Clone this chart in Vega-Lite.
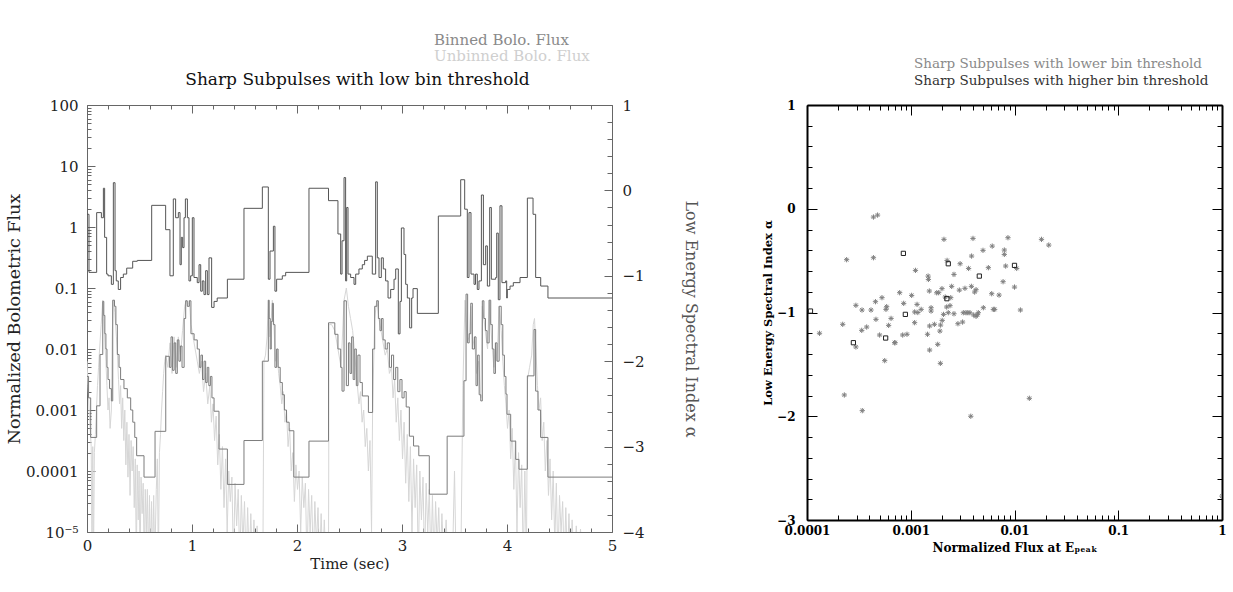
{
"$schema": "https://vega.github.io/schema/vega-lite/v6.json",
"autosize": {"type": "pad"},
"padding": {"left": 5, "top": 32, "right": 0, "bottom": 0},
"bounds": "flush",
"spacing": 195,
"background": "white",
"config": {
  "view": {"stroke": null},
  "title": {"font": "DejaVu Serif", "fontWeight": "normal"},
  "axis": {"grid": false, "domainColor": "#666", "tickColor": "#666", "labelColor": "#222", "titleColor": "#222", "labelFont": "DejaVu Serif", "titleFont": "DejaVu Serif", "labelFontSize": 15, "titleFontSize": 15, "titleFontWeight": "normal", "labelOverlap": false, "labelFlush": false, "labelBound": false}
},
"datasets": {
  "alpha": [
    {"t":0,"a":-0.28},{"t":0.019,"a":-0.96},{"t":0.092,"a":-0.26},{"t":0.137,"a":-0.32},{"t":0.156,"a":0.025},{"t":0.168,"a":-0.55},{"t":0.187,"a":-0.98},{"t":0.2,"a":-1.0},{"t":0.232,"a":-1.1},{"t":0.251,"a":0.09},{"t":0.267,"a":-0.94},{"t":0.279,"a":-1.06},{"t":0.298,"a":-1.16},{"t":0.32,"a":-1.02},{"t":0.346,"a":-0.98},{"t":0.378,"a":-0.91},{"t":0.435,"a":-0.83},{"t":0.479,"a":-0.82},{"t":0.616,"a":-0.175},{"t":0.749,"a":-0.46},{"t":0.79,"a":-1.0},{"t":0.822,"a":-0.1},{"t":0.844,"a":-0.32},{"t":0.87,"a":-0.26},{"t":0.886,"a":-0.87},{"t":0.898,"a":-0.55},{"t":0.911,"a":-0.67},{"t":0.924,"a":-0.32},{"t":0.937,"a":-0.1},{"t":0.956,"a":-0.32},{"t":0.971,"a":-1.06},{"t":0.987,"a":-1.0},{"t":1.003,"a":-0.32},{"t":1.019,"a":-1.02},{"t":1.05,"a":-1.08},{"t":1.067,"a":-0.87},{"t":1.083,"a":-1.18},{"t":1.098,"a":-1.06},{"t":1.114,"a":-1.22},{"t":1.13,"a":-0.94},{"t":1.146,"a":-1.22},{"t":1.162,"a":-0.79},{"t":1.187,"a":-1.37},{"t":1.21,"a":-1.3},{"t":1.24,"a":-1.26},{"t":1.337,"a":-1.04},{"t":1.495,"a":-0.21},{"t":1.67,"a":0.04},{"t":1.727,"a":-1.04},{"t":1.743,"a":-0.71},{"t":1.775,"a":-0.42},{"t":1.79,"a":-1.18},{"t":1.806,"a":-1.04},{"t":1.86,"a":-1.0},{"t":1.892,"a":-0.96},{"t":2.114,"a":0.025},{"t":2.3,"a":-0.12},{"t":2.39,"a":-0.51},{"t":2.416,"a":-0.98},{"t":2.429,"a":-0.59},{"t":2.448,"a":0.15},{"t":2.463,"a":-1.06},{"t":2.473,"a":-0.2},{"t":2.486,"a":-0.98},{"t":2.511,"a":-1.02},{"t":2.543,"a":-1.1},{"t":2.559,"a":-0.98},{"t":2.59,"a":-0.92},{"t":2.622,"a":-0.87},{"t":2.644,"a":-0.82},{"t":2.67,"a":-0.77},{"t":2.717,"a":-0.98},{"t":2.749,"a":0.1},{"t":2.765,"a":-0.79},{"t":2.781,"a":-1.02},{"t":2.803,"a":-0.79},{"t":2.822,"a":-0.92},{"t":2.844,"a":-1.06},{"t":2.867,"a":-1.26},{"t":2.892,"a":-1.16},{"t":2.924,"a":-1.04},{"t":2.94,"a":-0.92},{"t":2.965,"a":-1.68},{"t":2.981,"a":-1.3},{"t":2.994,"a":-0.44},{"t":3.019,"a":-0.75},{"t":3.035,"a":-1.1},{"t":3.051,"a":-1.26},{"t":3.073,"a":-1.61},{"t":3.092,"a":-1.26},{"t":3.105,"a":-1.15},{"t":3.146,"a":-1.44},{"t":3.346,"a":-0.3},{"t":3.559,"a":0.125},{"t":3.597,"a":-0.22},{"t":3.622,"a":-1.02},{"t":3.638,"a":-0.26},{"t":3.657,"a":-0.98},{"t":3.686,"a":-1.1},{"t":3.7,"a":-0.98},{"t":3.717,"a":-1.16},{"t":3.733,"a":-1.06},{"t":3.756,"a":-0.054},{"t":3.775,"a":-0.87},{"t":3.797,"a":-0.65},{"t":3.813,"a":-1.12},{"t":3.835,"a":-0.2},{"t":3.851,"a":-1.04},{"t":3.892,"a":-1.02},{"t":3.902,"a":-0.5},{"t":3.917,"a":-1.28},{"t":3.933,"a":-0.18},{"t":3.952,"a":-1.08},{"t":3.987,"a":-1.06},{"t":3.997,"a":-1.26},{"t":4.003,"a":-1.16},{"t":4.029,"a":-1.12},{"t":4.06,"a":-1.08},{"t":4.124,"a":-1.02},{"t":4.194,"a":-0.09},{"t":4.248,"a":-0.28},{"t":4.273,"a":-1.02},{"t":4.321,"a":-1.12},{"t":4.39,"a":-1.26},{"t":5.0,"a":-1.26}
  ],
  "binned": [
    {"t":0,"f":0.00355},{"t":0.015,"f":0.00158},{"t":0.035,"f":0.000355},{"t":0.092,"f":0.00117},{"t":0.124,"f":0.00813},{"t":0.15,"f":0.0603},{"t":0.16,"f":0.0355},{"t":0.17,"f":0.0178},{"t":0.18,"f":0.01},{"t":0.19,"f":0.005},{"t":0.2,"f":0.00316},{"t":0.215,"f":0.00224},{"t":0.232,"f":0.00141},{"t":0.245,"f":0.0631},{"t":0.262,"f":0.0501},{"t":0.275,"f":0.0251},{"t":0.289,"f":0.00813},{"t":0.305,"f":0.005},{"t":0.32,"f":0.00316},{"t":0.352,"f":0.00224},{"t":0.384,"f":0.00158},{"t":0.416,"f":0.001},{"t":0.436,"f":0.000631},{"t":0.455,"f":0.000355},{"t":0.473,"f":0.000178},{"t":0.543,"f":0.0000794},{"t":0.648,"f":0.000447},{"t":0.75,"f":0.00759},{"t":0.785,"f":0.005},{"t":0.8,"f":0.0158},{"t":0.815,"f":0.00447},{"t":0.83,"f":0.0126},{"t":0.845,"f":0.00398},{"t":0.86,"f":0.0141},{"t":0.875,"f":0.00631},{"t":0.89,"f":0.0112},{"t":0.905,"f":0.005},{"t":0.925,"f":0.0316},{"t":0.94,"f":0.0617},{"t":0.955,"f":0.0501},{"t":0.975,"f":0.0617},{"t":0.99,"f":0.0178},{"t":1.02,"f":0.0141},{"t":1.05,"f":0.01},{"t":1.07,"f":0.005},{"t":1.085,"f":0.00794},{"t":1.1,"f":0.00316},{"t":1.115,"f":0.00631},{"t":1.13,"f":0.00282},{"t":1.145,"f":0.005},{"t":1.16,"f":0.00251},{"t":1.175,"f":0.00355},{"t":1.19,"f":0.00158},{"t":1.21,"f":0.000955},{"t":1.257,"f":0.000229},{"t":1.337,"f":0.0000603},{"t":1.495,"f":0.000316},{"t":1.67,"f":0.00631},{"t":1.727,"f":0.0631},{"t":1.735,"f":0.0316},{"t":1.745,"f":0.01},{"t":1.755,"f":0.0282},{"t":1.765,"f":0.0562},{"t":1.775,"f":0.0251},{"t":1.79,"f":0.005},{"t":1.806,"f":0.01},{"t":1.82,"f":0.005},{"t":1.84,"f":0.00282},{"t":1.86,"f":0.00178},{"t":1.88,"f":0.001},{"t":1.9,"f":0.000631},{"t":1.925,"f":0.000457},{"t":1.97,"f":0.0000794},{"t":2.114,"f":0.000309},{"t":2.3,"f":0.0269},{"t":2.36,"f":0.0174},{"t":2.39,"f":0.01},{"t":2.416,"f":0.005},{"t":2.429,"f":0.00204},{"t":2.448,"f":0.0617},{"t":2.47,"f":0.00251},{"t":2.49,"f":0.0126},{"t":2.505,"f":0.00398},{"t":2.52,"f":0.0158},{"t":2.535,"f":0.00316},{"t":2.55,"f":0.01},{"t":2.565,"f":0.00251},{"t":2.58,"f":0.00794},{"t":2.6,"f":0.00282},{"t":2.622,"f":0.0017},{"t":2.68,"f":0.000912},{"t":2.72,"f":0.01},{"t":2.74,"f":0.0501},{"t":2.76,"f":0.0617},{"t":2.775,"f":0.0316},{"t":2.79,"f":0.02},{"t":2.805,"f":0.0316},{"t":2.82,"f":0.0141},{"t":2.84,"f":0.01},{"t":2.86,"f":0.0126},{"t":2.88,"f":0.005},{"t":2.9,"f":0.00794},{"t":2.92,"f":0.00316},{"t":2.94,"f":0.005},{"t":2.96,"f":0.002},{"t":2.98,"f":0.00316},{"t":3.0,"f":0.00158},{"t":3.02,"f":0.002},{"t":3.04,"f":0.00112},{"t":3.07,"f":0.000372},{"t":3.11,"f":0.000257},{"t":3.16,"f":0.000178},{"t":3.26,"f":0.0000417},{"t":3.43,"f":0.000372},{"t":3.59,"f":0.00302},{"t":3.61,"f":0.0794},{"t":3.625,"f":0.0126},{"t":3.64,"f":0.0178},{"t":3.655,"f":0.0562},{"t":3.67,"f":0.01},{"t":3.69,"f":0.0158},{"t":3.705,"f":0.00251},{"t":3.72,"f":0.00794},{"t":3.735,"f":0.00178},{"t":3.75,"f":0.00141},{"t":3.765,"f":0.0617},{"t":3.78,"f":0.0316},{"t":3.795,"f":0.02},{"t":3.81,"f":0.0126},{"t":3.83,"f":0.0631},{"t":3.845,"f":0.0251},{"t":3.86,"f":0.01},{"t":3.875,"f":0.00398},{"t":3.89,"f":0.0126},{"t":3.905,"f":0.00631},{"t":3.925,"f":0.0501},{"t":3.945,"f":0.0251},{"t":3.96,"f":0.00794},{"t":3.975,"f":0.00355},{"t":3.99,"f":0.00182},{"t":4.0,"f":0.000851},{"t":4.035,"f":0.000309},{"t":4.083,"f":0.000155},{"t":4.114,"f":0.000107},{"t":4.194,"f":0.00363},{"t":4.257,"f":0.0209},{"t":4.273,"f":0.00204},{"t":4.295,"f":0.001},{"t":4.32,"f":0.000355},{"t":4.39,"f":0.0000794},{"t":5.0,"f":0.0000794}
  ],
  "unbinned": [
    {"t":0,"f":0.00631},{"t":0.01,"f":0.00251},{"t":0.02,"f":0.001},{"t":0.03,"f":0.0005},{"t":0.04,"f":0.000251},{"t":0.048,"f":0.000003},{"t":0.055,"f":0.000251},{"t":0.062,"f":0.000003},{"t":0.07,"f":0.0002},{"t":0.08,"f":0.000398},{"t":0.09,"f":0.001},{"t":0.1,"f":0.00251},{"t":0.11,"f":0.005},{"t":0.12,"f":0.01},{"t":0.135,"f":0.0251},{"t":0.15,"f":0.0631},{"t":0.16,"f":0.0316},{"t":0.17,"f":0.0126},{"t":0.18,"f":0.00631},{"t":0.19,"f":0.00251},{"t":0.2,"f":0.001},{"t":0.21,"f":0.00158},{"t":0.22,"f":0.0005},{"t":0.232,"f":0.001},{"t":0.24,"f":0.0158},{"t":0.25,"f":0.0631},{"t":0.265,"f":0.0398},{"t":0.28,"f":0.0158},{"t":0.29,"f":0.00794},{"t":0.3,"f":0.00316},{"t":0.31,"f":0.00126},{"t":0.32,"f":0.00251},{"t":0.33,"f":0.0005},{"t":0.34,"f":0.00158},{"t":0.35,"f":0.000316},{"t":0.36,"f":0.001},{"t":0.37,"f":0.000126},{"t":0.38,"f":0.000631},{"t":0.39,"f":0.0000794},{"t":0.4,"f":0.000398},{"t":0.41,"f":0.0000398},{"t":0.42,"f":0.000316},{"t":0.43,"f":0.0001},{"t":0.44,"f":0.000251},{"t":0.45,"f":0.0000251},{"t":0.46,"f":0.000158},{"t":0.47,"f":0.000003},{"t":0.478,"f":0.000126},{"t":0.488,"f":0.0000158},{"t":0.496,"f":0.0001},{"t":0.505,"f":0.000003},{"t":0.515,"f":0.0000794},{"t":0.525,"f":0.00002},{"t":0.535,"f":0.0000631},{"t":0.545,"f":0.000003},{"t":0.555,"f":0.00005},{"t":0.565,"f":0.00001},{"t":0.575,"f":0.00005},{"t":0.585,"f":0.000003},{"t":0.595,"f":0.0000398},{"t":0.605,"f":0.000003},{"t":0.615,"f":0.0000316},{"t":0.625,"f":0.000003},{"t":0.635,"f":0.0000398},{"t":0.645,"f":0.000003},{"t":0.66,"f":0.00005},{"t":0.67,"f":0.000158},{"t":0.68,"f":0.000003},{"t":0.69,"f":0.0002},{"t":0.7,"f":0.000398},{"t":0.71,"f":0.001},{"t":0.72,"f":0.002},{"t":0.73,"f":0.00398},{"t":0.74,"f":0.00631},{"t":0.75,"f":0.00794},{"t":0.77,"f":0.005},{"t":0.79,"f":0.0126},{"t":0.81,"f":0.00398},{"t":0.83,"f":0.0158},{"t":0.85,"f":0.005},{"t":0.87,"f":0.0158},{"t":0.89,"f":0.00794},{"t":0.91,"f":0.02},{"t":0.93,"f":0.0501},{"t":0.945,"f":0.0631},{"t":0.96,"f":0.0501},{"t":0.975,"f":0.0631},{"t":0.99,"f":0.0251},{"t":1.01,"f":0.0158},{"t":1.03,"f":0.01},{"t":1.05,"f":0.00631},{"t":1.07,"f":0.00398},{"t":1.09,"f":0.00631},{"t":1.11,"f":0.002},{"t":1.13,"f":0.00398},{"t":1.15,"f":0.00126},{"t":1.17,"f":0.00251},{"t":1.185,"f":0.000631},{"t":1.2,"f":0.00126},{"t":1.215,"f":0.000316},{"t":1.23,"f":0.000794},{"t":1.245,"f":0.000126},{"t":1.26,"f":0.000398},{"t":1.275,"f":0.00005},{"t":1.29,"f":0.000251},{"t":1.305,"f":0.0000251},{"t":1.32,"f":0.000158},{"t":1.335,"f":0.00001},{"t":1.35,"f":0.0001},{"t":1.365,"f":0.0000316},{"t":1.38,"f":0.0000794},{"t":1.395,"f":0.000003},{"t":1.41,"f":0.0000631},{"t":1.425,"f":0.0000126},{"t":1.44,"f":0.00005},{"t":1.455,"f":0.000003},{"t":1.47,"f":0.0000398},{"t":1.485,"f":0.0000063},{"t":1.5,"f":0.0000316},{"t":1.515,"f":0.000003},{"t":1.53,"f":0.0000251},{"t":1.545,"f":0.000003},{"t":1.56,"f":0.00002},{"t":1.575,"f":0.000003},{"t":1.59,"f":0.0000158},{"t":1.605,"f":0.000003},{"t":1.62,"f":0.0000126},{"t":1.64,"f":0.000003},{"t":1.675,"f":0.000003},{"t":1.685,"f":0.00631},{"t":1.7,"f":0.00794},{"t":1.715,"f":0.0158},{"t":1.727,"f":0.0631},{"t":1.74,"f":0.0158},{"t":1.755,"f":0.0316},{"t":1.765,"f":0.0631},{"t":1.78,"f":0.0251},{"t":1.795,"f":0.00631},{"t":1.81,"f":0.01},{"t":1.825,"f":0.00398},{"t":1.84,"f":0.00251},{"t":1.855,"f":0.00126},{"t":1.87,"f":0.002},{"t":1.885,"f":0.000631},{"t":1.9,"f":0.001},{"t":1.915,"f":0.000251},{"t":1.93,"f":0.0005},{"t":1.945,"f":0.0001},{"t":1.96,"f":0.0002},{"t":1.975,"f":0.0000316},{"t":1.99,"f":0.000126},{"t":2.005,"f":0.00005},{"t":2.02,"f":0.0001},{"t":2.035,"f":0.00001},{"t":2.05,"f":0.0000794},{"t":2.065,"f":0.0000251},{"t":2.08,"f":0.0000631},{"t":2.095,"f":0.000003},{"t":2.11,"f":0.00005},{"t":2.125,"f":0.00001},{"t":2.14,"f":0.0000398},{"t":2.155,"f":0.000003},{"t":2.17,"f":0.0000316},{"t":2.185,"f":0.0000063},{"t":2.2,"f":0.0000251},{"t":2.215,"f":0.000003},{"t":2.23,"f":0.00002},{"t":2.245,"f":0.000003},{"t":2.26,"f":0.0000158},{"t":2.275,"f":0.000003},{"t":2.29,"f":0.00001},{"t":2.3,"f":0.000003},{"t":2.305,"f":0.0251},{"t":2.33,"f":0.0251},{"t":2.36,"f":0.02},{"t":2.39,"f":0.01},{"t":2.42,"f":0.005},{"t":2.448,"f":0.0631},{"t":2.47,"f":0.1},{"t":2.49,"f":0.0501},{"t":2.51,"f":0.0316},{"t":2.53,"f":0.02},{"t":2.545,"f":0.01},{"t":2.56,"f":0.005},{"t":2.575,"f":0.00251},{"t":2.59,"f":0.00126},{"t":2.605,"f":0.002},{"t":2.62,"f":0.000631},{"t":2.635,"f":0.001},{"t":2.65,"f":0.000251},{"t":2.665,"f":0.0005},{"t":2.68,"f":0.0001},{"t":2.695,"f":0.000316},{"t":2.71,"f":0.00001},{"t":2.72,"f":0.001},{"t":2.74,"f":0.0316},{"t":2.76,"f":0.0631},{"t":2.78,"f":0.0316},{"t":2.8,"f":0.02},{"t":2.82,"f":0.0126},{"t":2.84,"f":0.00794},{"t":2.86,"f":0.01},{"t":2.88,"f":0.00398},{"t":2.9,"f":0.005},{"t":2.915,"f":0.00158},{"t":2.93,"f":0.00316},{"t":2.945,"f":0.000631},{"t":2.96,"f":0.00158},{"t":2.975,"f":0.000316},{"t":2.99,"f":0.001},{"t":3.005,"f":0.000158},{"t":3.02,"f":0.000631},{"t":3.035,"f":0.0000631},{"t":3.05,"f":0.000398},{"t":3.065,"f":0.0000316},{"t":3.08,"f":0.000251},{"t":3.095,"f":0.00001},{"t":3.11,"f":0.000158},{"t":3.125,"f":0.0000251},{"t":3.14,"f":0.000126},{"t":3.155,"f":0.000003},{"t":3.17,"f":0.0001},{"t":3.185,"f":0.0000158},{"t":3.2,"f":0.0000794},{"t":3.215,"f":0.000003},{"t":3.23,"f":0.0000631},{"t":3.245,"f":0.00001},{"t":3.26,"f":0.00005},{"t":3.275,"f":0.000003},{"t":3.29,"f":0.0000398},{"t":3.305,"f":0.000003},{"t":3.32,"f":0.0000316},{"t":3.335,"f":0.0000063},{"t":3.35,"f":0.0000251},{"t":3.365,"f":0.000003},{"t":3.38,"f":0.00002},{"t":3.4,"f":0.000003},{"t":3.42,"f":0.0000158},{"t":3.44,"f":0.000003},{"t":3.46,"f":0.00001},{"t":3.48,"f":0.000003},{"t":3.5,"f":0.0001},{"t":3.515,"f":0.000003},{"t":3.56,"f":0.000003},{"t":3.58,"f":0.00251},{"t":3.6,"f":0.0631},{"t":3.62,"f":0.0126},{"t":3.64,"f":0.0158},{"t":3.655,"f":0.0501},{"t":3.67,"f":0.01},{"t":3.69,"f":0.0158},{"t":3.71,"f":0.00398},{"t":3.73,"f":0.00631},{"t":3.75,"f":0.00158},{"t":3.765,"f":0.0501},{"t":3.78,"f":0.0316},{"t":3.8,"f":0.0158},{"t":3.815,"f":0.01},{"t":3.83,"f":0.0631},{"t":3.845,"f":0.0251},{"t":3.86,"f":0.01},{"t":3.875,"f":0.005},{"t":3.89,"f":0.0126},{"t":3.905,"f":0.00631},{"t":3.925,"f":0.0501},{"t":3.945,"f":0.02},{"t":3.96,"f":0.00631},{"t":3.975,"f":0.00251},{"t":3.99,"f":0.00126},{"t":4.005,"f":0.0005},{"t":4.02,"f":0.001},{"t":4.035,"f":0.000158},{"t":4.05,"f":0.0005},{"t":4.065,"f":0.00005},{"t":4.08,"f":0.000316},{"t":4.095,"f":0.00001},{"t":4.11,"f":0.0002},{"t":4.125,"f":0.0000251},{"t":4.14,"f":0.000126},{"t":4.155,"f":0.000003},{"t":4.17,"f":0.0001},{"t":4.185,"f":0.000003},{"t":4.195,"f":0.00316},{"t":4.215,"f":0.005},{"t":4.235,"f":0.00794},{"t":4.25,"f":0.0251},{"t":4.262,"f":0.0316},{"t":4.275,"f":0.01},{"t":4.29,"f":0.00251},{"t":4.305,"f":0.001},{"t":4.32,"f":0.00158},{"t":4.335,"f":0.000316},{"t":4.35,"f":0.000631},{"t":4.365,"f":0.0001},{"t":4.38,"f":0.000316},{"t":4.395,"f":0.0000398},{"t":4.41,"f":0.000158},{"t":4.425,"f":0.0000158},{"t":4.44,"f":0.0001},{"t":4.455,"f":0.0000063},{"t":4.47,"f":0.0000631},{"t":4.485,"f":0.000003},{"t":4.5,"f":0.0000398},{"t":4.515,"f":0.00001},{"t":4.53,"f":0.0000316},{"t":4.545,"f":0.000003},{"t":4.56,"f":0.0000251},{"t":4.575,"f":0.000003},{"t":4.59,"f":0.00002},{"t":4.605,"f":0.000003},{"t":4.62,"f":0.0000158},{"t":4.64,"f":0.000003},{"t":4.66,"f":0.0000126},{"t":4.68,"f":0.000003},{"t":4.7,"f":0.0000112},{"t":4.72,"f":0.000003},{"t":4.74,"f":0.000003}
  ],
  "stars": [
    {"x":0.000132,"a":-1.2},{"x":0.000221,"a":-1.114},{"x":0.000241,"a":-0.491},{"x":0.000296,"a":-0.931},{"x":0.000339,"a":-0.976},{"x":0.000437,"a":-0.08},{"x":0.000479,"a":-0.061},{"x":0.000437,"a":-0.472},{"x":0.000457,"a":-0.896},{"x":0.000528,"a":-0.857},{"x":0.000414,"a":-0.976},{"x":0.000462,"a":-1.066},{"x":0.000337,"a":-1.172},{"x":0.000376,"a":-1.14},{"x":0.000501,"a":-1.217},{"x":0.000577,"a":-0.97},{"x":0.000586,"a":-0.944},{"x":0.000612,"a":-1.124},{"x":0.000646,"a":-1.057},{"x":0.0007,"a":-1.291},{"x":0.000782,"a":-0.809},{"x":0.000836,"a":-1.217},{"x":0.00092,"a":-1.21},{"x":0.000855,"a":-0.912},{"x":0.00102,"a":-0.835},{"x":0.00109,"a":-1.098},{"x":0.00109,"a":-0.995},{"x":0.00111,"a":-0.594},{"x":0.00115,"a":-0.922},{"x":0.00117,"a":-1.0},{"x":0.00126,"a":-0.97},{"x":0.00145,"a":-1.21},{"x":0.00147,"a":-0.649},{"x":0.00148,"a":-0.681},{"x":0.00151,"a":-0.793},{"x":0.00152,"a":-1.362},{"x":0.00152,"a":-1.13},{"x":0.00157,"a":-0.986},{"x":0.00157,"a":-0.954},{"x":0.00169,"a":-1.114},{"x":0.00178,"a":-0.81},{"x":0.00182,"a":-1.307},{"x":0.00186,"a":-0.809},{"x":0.00191,"a":-1.179},{"x":0.00194,"a":-1.121},{"x":0.002,"a":-0.77},{"x":0.00201,"a":-1.076},{"x":0.00207,"a":-1.018},{"x":0.00209,"a":-0.295},{"x":0.00215,"a":-0.851},{"x":0.00222,"a":-0.947},{"x":0.00224,"a":-0.498},{"x":0.0023,"a":-1.002},{"x":0.00239,"a":-0.934},{"x":0.00243,"a":-0.857},{"x":0.00248,"a":-0.748},{"x":0.00261,"a":-0.633},{"x":0.00261,"a":-1.012},{"x":0.00285,"a":-1.108},{"x":0.00294,"a":-0.784},{"x":0.00299,"a":-0.53},{"x":0.00316,"a":-1.092},{"x":0.00321,"a":-1.002},{"x":0.00333,"a":-0.767},{"x":0.00341,"a":-1.002},{"x":0.00356,"a":-1.002},{"x":0.00361,"a":-0.575},{"x":0.00372,"a":-1.002},{"x":0.00384,"a":-0.748},{"x":0.00386,"a":-0.456},{"x":0.00398,"a":-0.286},{"x":0.00404,"a":-1.024},{"x":0.00413,"a":-0.803},{"x":0.00426,"a":-0.78},{"x":0.00426,"a":-1.037},{"x":0.00439,"a":-1.021},{"x":0.00448,"a":-1.002},{"x":0.00497,"a":-0.401},{"x":0.00501,"a":-0.954},{"x":0.0056,"a":-0.568},{"x":0.00603,"a":-0.819},{"x":0.0061,"a":-0.36},{"x":0.00625,"a":-0.97},{"x":0.00644,"a":-0.97},{"x":0.0071,"a":-0.832},{"x":0.00776,"a":-0.703},{"x":0.00798,"a":-0.44},{"x":0.00798,"a":-0.398},{"x":0.00822,"a":-0.552},{"x":0.00865,"a":-0.279},{"x":0.01,"a":-0.755},{"x":0.0105,"a":-0.575},{"x":0.0114,"a":-0.976},{"x":0.0182,"a":-0.295},{"x":0.0214,"a":-0.35},{"x":0.000296,"a":-1.332},{"x":0.000705,"a":-1.291},{"x":0.000561,"a":-1.464},{"x":0.00193,"a":-1.49},{"x":0.000229,"a":-1.795},{"x":0.000341,"a":-1.946},{"x":0.00379,"a":-2.0},{"x":0.0139,"a":-1.827},{"x":1.0,"a":-2.77}
  ],
  "squares": [
    {"x":0.000849,"a":-0.43},{"x":0.0023,"a":-0.53},{"x":0.00458,"a":-0.649},{"x":0.00223,"a":-0.867},{"x":0.000887,"a":-1.018},{"x":0.000573,"a":-1.246},{"x":0.00028,"a":-1.291},{"x":0.01,"a":-0.546},{"x":0.000108,"a":-0.986}
  ]
},
"hconcat": [
  {
    "width": 525, "height": 427,
    "title": {"text": "Binned Bolo. Flux", "subtitle": "Unbinned Bolo. Flux", "anchor": "start", "align": "left", "frame": "group", "dx": 347, "color": "#8a8a8a", "subtitleColor": "#cfcfcf", "fontSize": 15, "subtitleFontSize": 15, "font": "DejaVu Serif", "subtitleFont": "DejaVu Serif", "fontWeight": "normal", "subtitlePadding": 1, "offset": 7},
    "layer": [
      {
        "data": {"name": "unbinned"},
        "mark": {"type": "line", "color": "#d6d6d6", "strokeWidth": 1, "clip": true},
        "encoding": {
          "x": {"field": "t", "type": "quantitative", "scale": {"domain": [0, 5], "nice": false, "zero": false}, "axis": null},
          "y": {"field": "f", "type": "quantitative", "scale": {"type": "log", "domain": [0.00001, 100], "nice": false}, "axis": null}
        }
      },
      {
        "data": {"name": "binned"},
        "mark": {"type": "line", "color": "#7c7c7c", "strokeWidth": 1, "interpolate": "step-after", "clip": true},
        "encoding": {
          "x": {"field": "t", "type": "quantitative", "scale": {"domain": [0, 5], "nice": false, "zero": false},
            "axis": {"orient": "bottom", "title": "Time (sec)", "values": [0,0.2,0.4,0.6,0.8,1,1.2,1.4,1.6,1.8,2,2.2,2.4,2.6,2.8,3,3.2,3.4,3.6,3.8,4,4.2,4.4,4.6,4.8,5],
              "labelExpr": "datum.value % 1 == 0 ? format(datum.value, 'd') : ''",
              "tickSize": {"condition": {"test": "datum.value % 1 == 0", "value": -8}, "value": -4},
              "labelPadding": 14, "titlePadding": -1}},
          "y": {"field": "f", "type": "quantitative", "scale": {"type": "log", "domain": [0.00001, 100], "nice": false},
            "axis": {"orient": "left", "title": "Normalized Bolometric Flux", "titleFontSize": 17.5,
              "values": [0.00001,0.00002,0.00003,0.00004,0.00005,0.00006,0.00007,0.00008,0.00009,0.0001,0.0002,0.0003,0.0004,0.0005,0.0006,0.0007,0.0008,0.0009,0.001,0.002,0.003,0.004,0.005,0.006,0.007,0.008,0.009,0.01,0.02,0.03,0.04,0.05,0.06,0.07,0.08,0.09,0.1,0.2,0.3,0.4,0.5,0.6,0.7,0.8,0.9,1,2,3,4,5,6,7,8,9,10,20,30,40,50,60,70,80,90,100],
              "labelExpr": "abs(log(datum.value)/LN10 - round(log(datum.value)/LN10)) < 0.000001 ? (datum.value < 0.00002 ? '10⁻⁵' : format(datum.value, '~g')) : ''",
              "tickSize": {"condition": {"test": "abs(log(datum.value)/LN10 - round(log(datum.value)/LN10)) < 0.000001", "value": -8}, "value": -4},
              "labelPadding": 17, "titlePadding": 2}}
        }
      },
      {
        "data": {"name": "alpha"},
        "mark": {"type": "line", "color": "#555555", "strokeWidth": 1, "interpolate": "step-after", "clip": true},
        "encoding": {
          "x": {"field": "t", "type": "quantitative", "scale": {"domain": [0, 5], "nice": false, "zero": false},
            "axis": {"orient": "top", "title": "Sharp Subpulses with low bin threshold", "titleFontSize": 17, "titleX": 270, "values": [0,0.2,0.4,0.6,0.8,1,1.2,1.4,1.6,1.8,2,2.2,2.4,2.6,2.8,3,3.2,3.4,3.6,3.8,4,4.2,4.4,4.6,4.8,5],
              "labels": false,
              "tickSize": {"condition": {"test": "datum.value % 1 == 0", "value": -8}, "value": -4},
              "titlePadding": 16, "titleColor": "#111"}},
          "y": {"field": "a", "type": "quantitative", "scale": {"domain": [-4, 1], "nice": false, "zero": false},
            "axis": {"orient": "right", "title": "Low Energy Spectral Index α", "titleFontSize": 16,
              "values": [-4,-3.8,-3.6,-3.4,-3.2,-3,-2.8,-2.6,-2.4,-2.2,-2,-1.8,-1.6,-1.4,-1.2,-1,-0.8,-0.6,-0.4,-0.2,0,0.2,0.4,0.6,0.8,1],
              "labelExpr": "abs(datum.value - round(datum.value)) < 0.000001 ? format(datum.value, 'd') : ''",
              "tickSize": {"condition": {"test": "abs(datum.value - round(datum.value)) < 0.000001", "value": -8}, "value": -5},
              "labelPadding": 18, "titlePadding": 38, "titleColor": "#555"}}
        }
      }
    ],
    "resolve": {"scale": {"y": "independent"}, "axis": {"x": "independent", "y": "independent"}}
  },
  {
    "width": 415, "height": 415,
    "title": {"text": "Sharp Subpulses with lower bin threshold", "subtitle": "Sharp Subpulses with higher bin threshold", "anchor": "start", "align": "left", "frame": "group", "dx": 107, "color": "#8a8a8a", "subtitleColor": "#333", "fontSize": 13.5, "subtitleFontSize": 13.5, "font": "DejaVu Serif", "subtitleFont": "DejaVu Serif", "fontWeight": "normal", "subtitlePadding": 3, "offset": 12},
    "layer": [
      {
        "data": {"name": "stars"},
        "mark": {"type": "point", "shape": "M-1,0L1,0M0,-1L0,1M-0.7,-0.7L0.7,0.7M-0.7,0.7L0.7,-0.7", "filled": false, "color": "#808080", "size": 28, "strokeWidth": 1, "opacity": 1, "clip": true},
        "encoding": {
          "x": {"field": "x", "type": "quantitative", "scale": {"type": "log", "domain": [0.0001, 1], "nice": false},
            "axis": {"orient": "bottom", "title": "Normalized Flux at Eₚₑₐₖ",
              "values": [0.0001,0.0002,0.0003,0.0004,0.0005,0.0006,0.0007,0.0008,0.0009,0.001,0.002,0.003,0.004,0.005,0.006,0.007,0.008,0.009,0.01,0.02,0.03,0.04,0.05,0.06,0.07,0.08,0.09,0.1,0.2,0.3,0.4,0.5,0.6,0.7,0.8,0.9,1],
              "labelExpr": "abs(log(datum.value)/LN10 - round(log(datum.value)/LN10)) < 0.000001 ? format(datum.value, '~g') : ''",
              "tickSize": {"condition": {"test": "abs(log(datum.value)/LN10 - round(log(datum.value)/LN10)) < 0.000001", "value": -10}, "value": -5},
              "domainColor": "#000", "domainWidth": 2, "tickColor": "#000", "labelColor": "#000", "titleColor": "#000",
              "labelFontSize": 12, "titleFontSize": 12, "labelFontWeight": "bold", "titleFontWeight": "bold", "labelPadding": 15, "titlePadding": 1}},
          "y": {"field": "a", "type": "quantitative", "scale": {"domain": [-3, 1], "nice": false, "zero": false},
            "axis": {"orient": "left", "title": "Low Energy Spectral Index α",
              "values": [-3,-2.8,-2.6,-2.4,-2.2,-2,-1.8,-1.6,-1.4,-1.2,-1,-0.8,-0.6,-0.4,-0.2,0,0.2,0.4,0.6,0.8,1],
              "labelExpr": "abs(datum.value - round(datum.value)) < 0.000001 ? format(datum.value, 'd') : ''",
              "tickSize": {"condition": {"test": "abs(datum.value - round(datum.value)) < 0.000001", "value": -10}, "value": -5},
              "domainColor": "#000", "domainWidth": 2, "tickColor": "#000", "labelColor": "#000", "titleColor": "#000",
              "labelFontSize": 12, "titleFontSize": 11.5, "labelFontWeight": "bold", "titleFontWeight": "bold", "labelPadding": 22, "titlePadding": 3}}
        }
      },
      {
        "data": {"name": "squares"},
        "mark": {"type": "point", "shape": "square", "filled": false, "color": "#222", "size": 18, "strokeWidth": 1, "opacity": 1, "clip": true},
        "encoding": {
          "x": {"field": "x", "type": "quantitative", "scale": {"type": "log", "domain": [0.0001, 1], "nice": false},
            "axis": {"orient": "top", "title": null, "labels": false,
              "values": [0.0001,0.0002,0.0003,0.0004,0.0005,0.0006,0.0007,0.0008,0.0009,0.001,0.002,0.003,0.004,0.005,0.006,0.007,0.008,0.009,0.01,0.02,0.03,0.04,0.05,0.06,0.07,0.08,0.09,0.1,0.2,0.3,0.4,0.5,0.6,0.7,0.8,0.9,1],
              "tickSize": {"condition": {"test": "abs(log(datum.value)/LN10 - round(log(datum.value)/LN10)) < 0.000001", "value": -10}, "value": -5},
              "domainColor": "#000", "domainWidth": 2, "tickColor": "#000"}},
          "y": {"field": "a", "type": "quantitative", "scale": {"domain": [-3, 1], "nice": false, "zero": false},
            "axis": {"orient": "right", "title": null, "labels": false,
              "values": [-3,-2.8,-2.6,-2.4,-2.2,-2,-1.8,-1.6,-1.4,-1.2,-1,-0.8,-0.6,-0.4,-0.2,0,0.2,0.4,0.6,0.8,1],
              "tickSize": {"condition": {"test": "abs(datum.value - round(datum.value)) < 0.000001", "value": -10}, "value": -5},
              "domainColor": "#000", "domainWidth": 2, "tickColor": "#000"}}
        }
      }
    ],
    "resolve": {"axis": {"x": "independent", "y": "independent"}}
  }
]
}
